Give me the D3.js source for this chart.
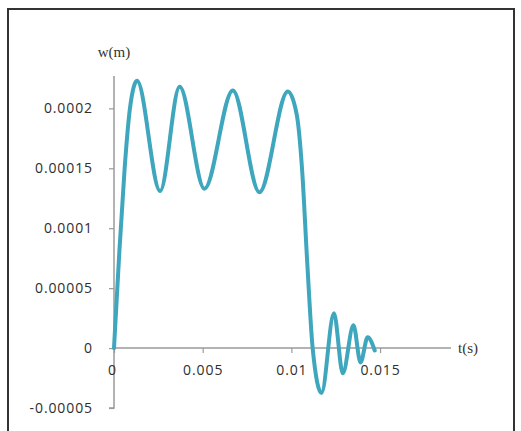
<!DOCTYPE html>
<html>
<head>
<meta charset="utf-8">
<script src="https://cdn.jsdelivr.net/npm/d3@7"></script>
<style>
  body { margin: 0; background: #fff; }
  svg { display: block; }
</style>
</head>
<body>
<svg width="521" height="431"></svg>
<script>
// data
var tValues = [0, 0.0003, 0.0006, 0.0009, 0.0013, 0.0026, 0.0037, 0.0051, 0.0067, 0.0082, 0.0098,
               0.0103, 0.0106, 0.0109, 0.0112, 0.0117, 0.0124, 0.0129, 0.0135, 0.0139, 0.0143, 0.0147];
var wValues = [0, 0.00008, 0.00015, 0.0002, 0.000223, 0.000131, 0.000218, 0.000133, 0.000215, 0.00013, 0.000214,
               0.000195, 0.00015, 0.00007, 0, -0.0000375, 0.000029, -0.000021, 0.000019, -0.000012, 0.000009, -0.000002];
var xTicks = [0, 0.005, 0.01, 0.015];
var xTickLabels = ["0", "0.005", "0.01", "0.015"];
var yTicks = [-0.00005, 0, 0.00005, 0.0001, 0.00015, 0.0002];
var yTickLabels = ["-0.00005", "0", "0.00005", "0.0001", "0.00015", "0.0002"];

var svg = d3.select("svg"),
    width = +svg.attr("width"),
    height = +svg.attr("height");

// frame
svg.append("path")
    .attr("d", "M8,431V9H514V431")
    .attr("fill", "none")
    .attr("stroke", "#333")
    .attr("stroke-width", 2);

var x = d3.scaleLinear().domain([0, 0.019]).range([114, 451]);
var y = d3.scaleLinear().domain([-0.00005, 0.000227]).range([408, 76]);

var axisColor = "#9a9a9a";
var labelFont = "'Open Sans', sans-serif";

// y axis
var yAxis = svg.append("g")
    .attr("transform", "translate(" + x(0) + ",0)")
    .call(d3.axisLeft(y).tickValues(yTicks).tickSize(5).tickPadding(16)
        .tickFormat(function (d, i) { return yTickLabels[i]; }));

// x axis at w = 0
var xAxis = svg.append("g")
    .attr("transform", "translate(0," + y(0) + ")")
    .call(d3.axisBottom(x).tickValues(xTicks).tickSize(5).tickPadding(12)
        .tickFormat(function (d, i) { return xTickLabels[i]; }));

[yAxis, xAxis].forEach(function (g) {
  g.select(".domain").attr("stroke", axisColor).attr("stroke-width", 1.5);
  g.selectAll(".tick line").attr("stroke", axisColor).attr("stroke-width", 1.2);
  g.selectAll(".tick text")
      .attr("fill", "#2e2e2e")
      .style("font-family", labelFont)
      .style("font-size", "14px")
      .style("letter-spacing", "0.9px");
});
yAxis.select(".domain").attr("d", "M-5," + y(-0.00005) + "H0V" + y(0.000227));
xAxis.select(".domain").attr("d", "M" + x(0) + ",0H" + x(0.019));
xAxis.select(".tick text").attr("dx", "-2");

// axis titles
svg.append("text")
    .attr("x", 114).attr("y", 57)
    .attr("text-anchor", "middle")
    .style("font-family", "'Liberation Serif', serif")
    .style("font-size", "15px")
    .attr("fill", "#333")
    .text("w(m)");

svg.append("text")
    .attr("x", 458).attr("y", y(0) + 5)
    .style("font-family", "'Liberation Serif', serif")
    .style("font-size", "15px")
    .attr("fill", "#333")
    .text("t(s)");

// curve
var points = tValues.map(function (t, i) { return [t, wValues[i]]; });
var line = d3.line()
    .x(function (d) { return x(d[0]); })
    .y(function (d) { return y(d[1]); })
    .curve(d3.curveMonotoneX);

svg.append("path")
    .datum(points)
    .attr("d", line)
    .attr("fill", "none")
    .attr("stroke", "#3ea6bd")
    .attr("stroke-width", 4)
    .attr("stroke-linejoin", "round")
    .attr("stroke-linecap", "round");
</script>
</body>
</html>
